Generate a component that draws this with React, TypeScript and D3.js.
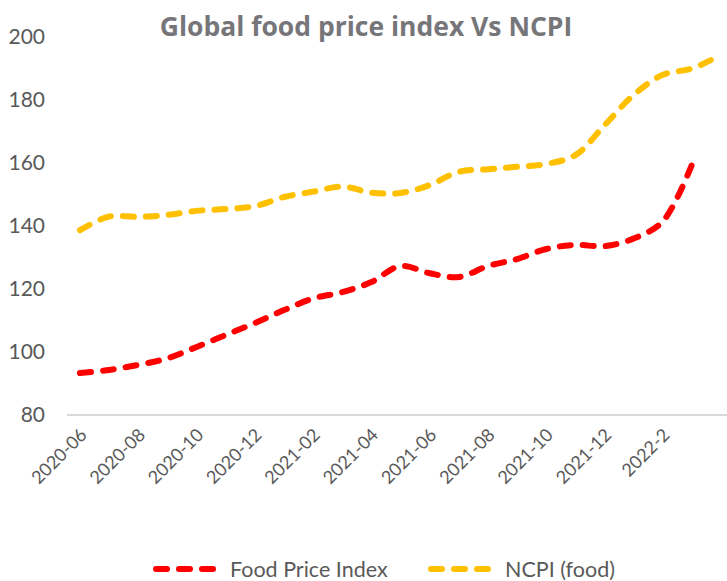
import React, { useRef, useEffect } from 'react';
import * as d3 from 'd3';

const months = [
  '2020-06', '2020-07', '2020-08', '2020-09', '2020-10', '2020-11', '2020-12',
  '2021-01', '2021-02', '2021-03', '2021-04', '2021-05', '2021-06', '2021-07',
  '2021-08', '2021-09', '2021-10', '2021-11', '2021-12', '2022-1', '2022-2',
  '2022-3', '2022-4',
];
// every other month gets a label
const tickLabels = ['2020-06', '2020-08', '2020-10', '2020-12', '2021-02', '2021-04',
  '2021-06', '2021-08', '2021-10', '2021-12', '2022-2'];

const foodPriceIndex = [
  93.3, 94.3, 95.9, 98, 101.6, 105.4, 109.2, 113.3, 117, 119, 122.2, 127.3,
  125, 123.8, 127.3, 129.5, 132.7, 134, 133.6, 136, 141.5, 159.5,
];
const ncpiFood = [
  138.7, 143, 142.9, 143.5, 144.8, 145.4, 146.3, 149.2, 150.9, 152.5, 150.6,
  150.5, 153, 157.2, 158, 158.8, 159.7, 162.5, 172, 181.6, 188, 190, 194.3,
];
const yTicks = [80, 100, 120, 140, 160, 180, 200];

const series = [
  { name: 'Food Price Index', values: foodPriceIndex, color: '#FF0000' },
  { name: 'NCPI (food)', values: ncpiFood, color: '#FFC000' },
];

const W = 727;
const H = 581;

const App = () => {
  const svgRef = useRef(null);

  useEffect(() => {
    const svg = d3.select(svgRef.current);
    svg.selectAll('*').remove();

    const x = d3.scalePoint()
      .domain(months)
      .range([80, 80 + 29.14 * (months.length - 1)]);

    const y = d3.scaleLinear()
      .domain([80, 200])
      .range([415, 37]);

    const textColor = '#595959';

    // title
    svg.append('text')
      .attr('x', 366)
      .attr('y', 36)
      .attr('text-anchor', 'middle')
      .attr('font-family', '"Open Sans", sans-serif')
      .attr('font-weight', 'bold')
      .attr('font-size', '26.5px')
      .attr('fill', '#76767a')
      .text('Global food price index Vs NCPI');

    // y labels
    svg.append('g')
      .selectAll('text')
      .data(yTicks)
      .enter().append('text')
      .attr('x', 45)
      .attr('y', d => y(d))
      .attr('dy', '0.35em')
      .attr('text-anchor', 'end')
      .attr('font-family', 'Lato, sans-serif')
      .attr('font-size', '21px')
      .attr('fill', textColor)
      .text(d => d);

    // baseline axis
    svg.append('line')
      .attr('x1', 67)
      .attr('x2', W)
      .attr('y1', y(80))
      .attr('y2', y(80))
      .attr('stroke', '#D9D9D9')
      .attr('stroke-width', 2);

    // x labels
    svg.append('g')
      .selectAll('text')
      .data(tickLabels)
      .enter().append('text')
      .attr('transform', d => `translate(${x(d) + 8},436) rotate(-45)`)
      .attr('text-anchor', 'end')
      .attr('font-family', 'Lato, sans-serif')
      .attr('font-size', '18px')
      .attr('fill', textColor)
      .text(d => d);

    const line = d3.line()
      .x((d, i) => x(months[i]))
      .y(d => y(d))
      .curve(d3.curveCatmullRom.alpha(0.5));

    series.forEach(s => {
      svg.append('path')
        .datum(s.values)
        .attr('d', line)
        .attr('fill', 'none')
        .attr('stroke', s.color)
        .attr('stroke-width', 6)
        .attr('stroke-linecap', 'round')
        .attr('stroke-dasharray', '11 12');
    });

    // legend
    const legendX = [153, 428];
    series.forEach((s, i) => {
      const g = svg.append('g')
        .attr('transform', `translate(${legendX[i]},569)`);
      g.append('line')
        .attr('x1', 3)
        .attr('x2', 62)
        .attr('stroke', s.color)
        .attr('stroke-width', 6)
        .attr('stroke-linecap', 'round')
        .attr('stroke-dasharray', '11 12');
      g.append('text')
        .attr('x', 77)
        .attr('dy', '0.35em')
        .attr('font-family', 'Lato, sans-serif')
        .attr('font-size', '21.5px')
        .attr('fill', textColor)
        .text(s.name);
    });
  }, []);

  return (
    <div style={{ position: 'absolute', left: 0, top: 0, width: W, height: H, background: '#fff' }}>
      <svg ref={svgRef} width={W} height={H} />
    </div>
  );
};

export default App;
